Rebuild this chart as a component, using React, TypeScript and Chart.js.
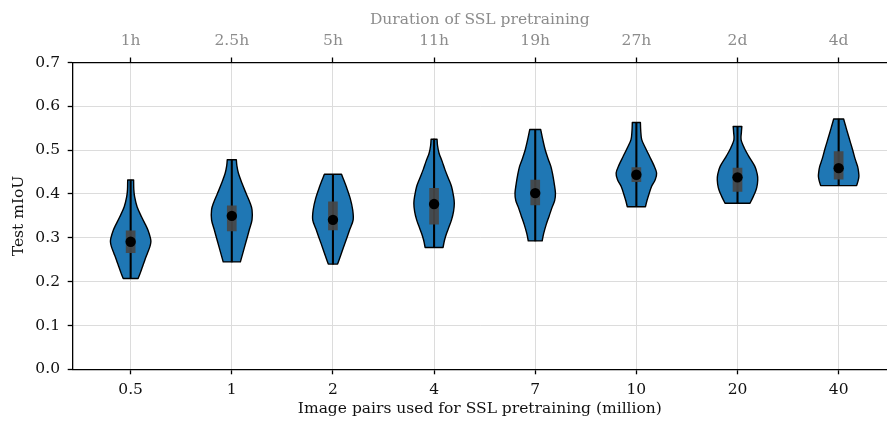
import React, { useEffect, useRef } from "react";
import { Chart, registerables } from "chart.js";

Chart.register(...registerables);

// Categories / tick labels
const pairLabels = ["0.5", "1", "2", "4", "7", "10", "20", "40"];
const durationLabels = ["1h", "2.5h", "5h", "11h", "19h", "27h", "2d", "4d"];

// Summary statistics
const medians = [0.291, 0.35, 0.341, 0.377, 0.402, 0.444, 0.438, 0.459];
const quartile1 = [0.266, 0.316, 0.318, 0.331, 0.375, 0.428, 0.406, 0.434];
const quartile3 = [0.316, 0.373, 0.382, 0.413, 0.432, 0.46, 0.459, 0.497];

// Violin density profiles (levels of test mIoU, relative density at each level)
const levels05 = [0.432, 0.41, 0.394, 0.371, 0.348, 0.33, 0.318, 0.3, 0.291, 0.28, 0.265, 0.25, 0.234, 0.22, 0.207];
const density05 = [3, 3.2, 4, 6.5, 11, 15, 17.5, 20, 20.5, 19.5, 17, 14.5, 12, 9.8, 7.5];
const levels1 = [0.478, 0.465, 0.448, 0.425, 0.402, 0.38, 0.364, 0.341, 0.32, 0.303, 0.28, 0.26, 0.245];
const density1 = [4.5, 5, 6.5, 10, 14, 18, 20, 20, 17.5, 15.5, 12.7, 10.3, 8.5];
const levels2 = [0.445, 0.43, 0.417, 0.39, 0.364, 0.341, 0.32, 0.303, 0.285, 0.265, 0.25, 0.24];
const density2 = [8.7, 11.3, 13.5, 17.5, 20, 20.5, 17.2, 14.6, 11.7, 8.6, 6.3, 4.7];
const levels4 = [0.525, 0.51, 0.493, 0.475, 0.455, 0.435, 0.417, 0.395, 0.379, 0.36, 0.341, 0.325, 0.31, 0.295, 0.278];
const density4 = [3, 3.5, 5, 8, 11, 14.5, 17.5, 19.5, 20.3, 19.5, 17.5, 15, 12.5, 10.5, 9];
const levels7 = [0.547, 0.525, 0.501, 0.48, 0.463, 0.445, 0.425, 0.402, 0.385, 0.37, 0.35, 0.33, 0.31, 0.293];
const density7 = [5.5, 7.5, 10, 13, 15.7, 17.5, 19, 20.3, 19.5, 17, 14, 11, 8.5, 7];
const levels10 = [0.563, 0.545, 0.524, 0.505, 0.486, 0.467, 0.448, 0.432, 0.417, 0.4, 0.385, 0.371];
const density10 = [4, 4.3, 5.3, 9, 13, 17, 20, 18.5, 15, 12.5, 10.5, 9];
const levels20 = [0.554, 0.54, 0.524, 0.505, 0.486, 0.463, 0.445, 0.432, 0.415, 0.402, 0.39, 0.379];
const density20 = [4.5, 4, 3.7, 7, 11.7, 18, 20.5, 21, 20, 18, 15.5, 13];
const levels40 = [0.571, 0.555, 0.539, 0.52, 0.501, 0.48, 0.463, 0.45, 0.44, 0.43, 0.419];
const density40 = [5, 7, 9, 11.5, 14, 16.5, 19, 20, 20.3, 19.5, 18];

const violinLevels = [levels05, levels1, levels2, levels4, levels7, levels10, levels20, levels40];
const violinDensity = [density05, density1, density2, density4, density7, density10, density20, density40];
const minimums = violinLevels.map((l) => Math.min(...l));
const maximums = violinLevels.map((l) => Math.max(...l));

const yTicks = [0, 0.1, 0.2, 0.3, 0.4, 0.5, 0.6, 0.7];

const VIOLIN_HALF = 0.2; // category units
const X_MIN = -0.573;
const X_MAX = 7.478;

const FONT = { family: "'DejaVu Serif', serif", size: 15.5 };
const GRAY = "#8c8c8c";
const GRID = "#dcdcdc";

type P = { x: number; y: number };

function splinePath(ctx: CanvasRenderingContext2D, pts: P[]) {
  for (let i = 0; i < pts.length - 1; i++) {
    const p0 = pts[Math.max(0, i - 1)];
    const p1 = pts[i];
    const p2 = pts[i + 1];
    const p3 = pts[Math.min(pts.length - 1, i + 2)];
    const c1x = p1.x + (p2.x - p0.x) / 6;
    const c1y = p1.y + (p2.y - p0.y) / 6;
    const c2x = p2.x - (p3.x - p1.x) / 6;
    const c2y = p2.y - (p3.y - p1.y) / 6;
    ctx.bezierCurveTo(c1x, c1y, c2x, c2y, p2.x, p2.y);
  }
}

const violinPlugin = {
  id: "violinBodies",
  beforeDatasetsDraw(chart: any) {
    const { ctx, chartArea } = chart;
    const xs = chart.scales.x;
    const ys = chart.scales.y;
    ctx.save();
    ctx.beginPath();
    ctx.rect(chartArea.left, chartArea.top, chartArea.right - chartArea.left, chartArea.bottom - chartArea.top);
    ctx.clip();
    violinLevels.forEach((lv, i) => {
      const dens = violinDensity[i];
      const maxD = Math.max(...dens);
      const right: P[] = lv.map((v, k) => ({
        x: xs.getPixelForValue(i + (VIOLIN_HALF * dens[k]) / maxD),
        y: ys.getPixelForValue(v),
      }));
      const left: P[] = lv
        .map((v, k) => ({
          x: xs.getPixelForValue(i - (VIOLIN_HALF * dens[k]) / maxD),
          y: ys.getPixelForValue(v),
        }))
        .reverse();
      ctx.beginPath();
      ctx.moveTo(right[0].x, right[0].y);
      splinePath(ctx, right);
      ctx.lineTo(left[0].x, left[0].y);
      splinePath(ctx, left);
      ctx.closePath();
      ctx.fillStyle = "#1f77b4";
      ctx.fill();
      ctx.lineWidth = 1.4;
      ctx.strokeStyle = "#000";
      ctx.lineJoin = "round";
      ctx.stroke();
    });
    ctx.restore();
  },
};

export default function App() {
  const ref = useRef<HTMLCanvasElement | null>(null);
  useEffect(() => {
    if (!ref.current) return;
    const catTicks = (s: any) => {
      s.ticks = pairLabels.map((_, i) => ({ value: i }));
    };
    const chart = new Chart(ref.current, {
      type: "bar",
      data: {
        datasets: [
          {
            type: "scatter",
            label: "median",
            order: 0,
            data: medians.map((m, i) => ({ x: i, y: m })),
            backgroundColor: "#000",
            borderColor: "#000",
            borderWidth: 0,
            pointRadius: 5.2,
          } as any,
          {
            type: "bar",
            label: "iqr",
            order: 1,
            grouped: false,
            data: quartile1.map((q, i) => ({ x: i, y: [q, quartile3[i]] })),
            backgroundColor: "rgba(70,70,70,0.92)",
            barThickness: 9,
            borderWidth: 0,
          } as any,
          {
            type: "bar",
            label: "range",
            order: 2,
            grouped: false,
            data: minimums.map((m, i) => ({ x: i, y: [m, maximums[i]] })),
            backgroundColor: "#000",
            barThickness: 1.4,
            borderWidth: 0,
          } as any,
        ],
      },
      options: {
        animation: false,
        responsive: false,
        devicePixelRatio: 1,
        layout: { padding: 0, autoPadding: false },
        plugins: { legend: { display: false }, tooltip: { enabled: false } },
        scales: {
          x: {
            type: "linear",
            position: "bottom",
            offset: false,
            min: X_MIN,
            max: X_MAX,
            afterBuildTicks: catTicks,
            afterFit: (s: any) => {
              s.height = 58.7;
              s.paddingLeft = 0;
              s.paddingRight = 0;
            },
            ticks: {
              callback: (_v: any, i: number) => pairLabels[i],
              color: "#111",
              font: FONT,
              padding: 6,
              maxRotation: 0,
              autoSkip: false,
            },
            grid: { offset: false, color: GRID, lineWidth: 1, tickColor: "#000", tickLength: 5, tickWidth: 1.3 },
            border: { color: "#000", width: 1.3 },
            title: {
              display: true,
              text: "Image pairs used for SSL pretraining (million)",
              color: "#111",
              font: FONT,
              padding: { top: 0, bottom: 9.5 },
            },
          },
          x2: {
            type: "linear",
            position: "top",
            offset: false,
            min: X_MIN,
            max: X_MAX,
            afterBuildTicks: catTicks,
            afterFit: (s: any) => {
              s.height = 62.5;
              s.paddingLeft = 0;
              s.paddingRight = 0;
            },
            ticks: {
              callback: (_v: any, i: number) => durationLabels[i],
              color: GRAY,
              font: FONT,
              padding: 7,
              maxRotation: 0,
              autoSkip: false,
            },
            grid: { offset: false, drawOnChartArea: false, tickColor: "#000", tickLength: 5, tickWidth: 1.3 },
            border: { color: "#000", width: 1.3 },
            title: {
              display: true,
              text: "Duration of SSL pretraining",
              color: GRAY,
              font: FONT,
              padding: { top: 10.5, bottom: 0 },
            },
          },
          y: {
            type: "linear",
            min: 0,
            max: 0.7,
            afterBuildTicks: (s: any) => {
              s.ticks = yTicks.map((v) => ({ value: v }));
            },
            afterFit: (s: any) => {
              s.width = 72.7;
              s.paddingTop = 0;
              s.paddingBottom = 0;
            },
            ticks: {
              callback: (v: any) => Number(v).toFixed(1),
              color: "#111",
              font: FONT,
              padding: 7.7,
            },
            grid: { color: GRID, lineWidth: 1, tickColor: "#000", tickLength: 5, tickWidth: 1.3 },
            border: { color: "#000", width: 1.3 },
            title: {
              display: true,
              text: "Test mIoU",
              color: "#111",
              font: FONT,
              padding: { top: 9.7, bottom: 0 },
            },
          },
        },
      } as any,
      plugins: [violinPlugin],
    });
    return () => chart.destroy();
  }, []);
  return (
    <div style={{ position: "fixed", left: 0, top: 0, width: 887, height: 428, background: "#fff" }}>
      <canvas ref={ref} width={887} height={428} style={{ display: "block" }} />
    </div>
  );
}
